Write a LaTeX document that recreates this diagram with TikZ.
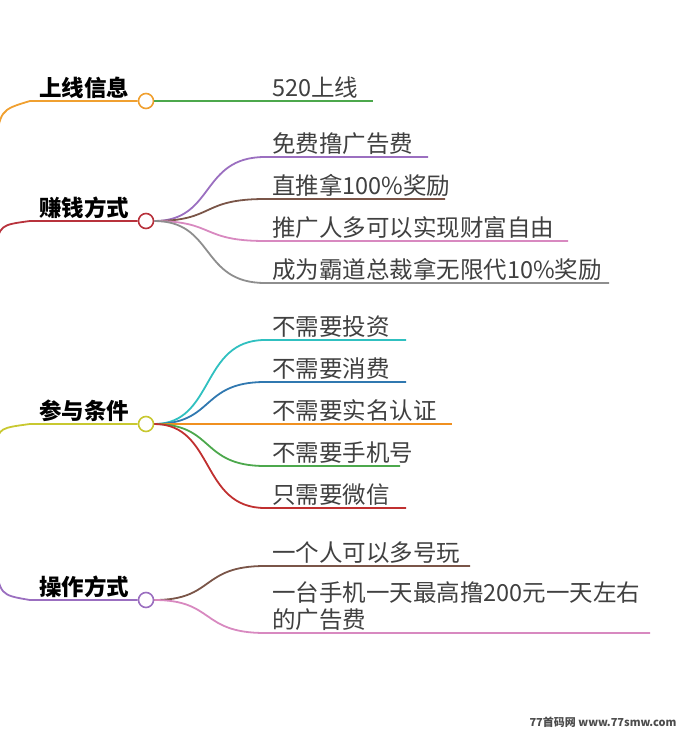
\documentclass[tikz,border=0pt]{standalone}
\usepackage{fontspec}
\setmainfont{Noto Sans CJK SC}
\begin{document}
\begin{tikzpicture}[x=1pt,y=-1pt,
 lbl/.style={anchor=south west,inner sep=1pt,font=\fontsize{23.5}{26}\selectfont,text=black!75},
 br/.style={anchor=south west,inner sep=1pt,font=\fontsize{22.5}{26}\selectfont\bfseries},
 dot/.style={circle,draw,line width=1.6pt,fill=white,minimum size=15pt,inner sep=0pt},
 ln/.style={line width=1.8pt}]
\useasboundingbox (0,0) rectangle (684,735);
\definecolor{cO}{HTML}{F0A030}\definecolor{cR}{HTML}{B8323C}\definecolor{cY}{HTML}{C8C830}\definecolor{cP}{HTML}{9B6FC0}
\definecolor{cG}{HTML}{4CA84C}\definecolor{cBr}{HTML}{7A5548}\definecolor{cPk}{HTML}{D889C0}\definecolor{cGr}{HTML}{8E8E8E}
\definecolor{cT}{HTML}{30C0C0}\definecolor{cB}{HTML}{3078B0}\definecolor{cOr}{HTML}{F09020}\definecolor{cRd}{HTML}{C03030}
% branch 1
\coordinate (s1) at (-5,150);
\node[br] (b1) at (38,100) {上线信息};
\node[dot,draw=cO] (d1) at (146,101) {};
\draw[ln,cO] (s1) .. controls (0,110) .. (30,101) -- (d1);
\coordinate (e11) at (373,101);
\draw[ln,cG] (d1) -- (e11);
\node[lbl] (t11) at (271,100) {520上线};
% branch 2
\coordinate (s2) at (-5,250);
\node[br] (b2) at (38,220) {赚钱方式};
\node[dot,draw=cR] (d2) at (146,221) {};
\draw[ln,cR] (s2) .. controls (0,225) .. (30,221) -- (d2);
\foreach \y/\e/\c/\t in {157/428/cP/免费撸广告费,199/445/cBr/直推拿100\%奖励,241/568/cPk/推广人多可以实现财富自由,283/609/cGr/成为霸道总裁拿无限代10\%奖励}{
 \coordinate (e) at (\e,\y);
 \draw[ln,\c] (d2) .. controls (215,221) and (200,\y) .. (265,\y) -- (e);
 \node[lbl] at (271,\y-1) {\t};}
% branch 3
\coordinate (s3) at (-5,445);
\node[br] (b3) at (38,423) {参与条件};
\node[dot,draw=cY] (d3) at (146,424) {};
\draw[ln,cY] (s3) .. controls (0,428) .. (30,424) -- (d3);
\foreach \y/\e/\c/\t in {340/406/cT/不需要投资,382/406/cB/不需要消费,424/452/cOr/不需要实名认证,466/400/cG/不需要手机号,508/406/cRd/只需要微信}{
 \coordinate (e) at (\e,\y);
 \draw[ln,\c] (d3) .. controls (215,424) and (200,\y) .. (265,\y) -- (e);
 \node[lbl] at (271,\y-1) {\t};}
% branch 4
\coordinate (s4) at (-5,560);
\node[br] (b4) at (38,599) {操作方式};
\node[dot,draw=cP] (d4) at (146,600) {};
\draw[ln,cP] (s4) .. controls (0,595) .. (30,600) -- (d4);
\coordinate (e41) at (470,566);
\draw[ln,cBr] (d4) .. controls (215,600) and (200,566) .. (265,566) -- (e41);
\node[lbl] at (271,565) {一个人可以多号玩};
\coordinate (e42) at (650,633);
\draw[ln,cPk] (d4) .. controls (215,600) and (200,633) .. (265,633) -- (e42);
\node[lbl,align=left,font=\fontsize{23.5}{27}\selectfont] at (271,632) {一台手机一天最高撸200元一天左右\\的广告费};
\node[anchor=east,font=\fontsize{11}{13}\selectfont\bfseries,text=black!70] (wm) at (680,722) {77首码网 www.77smw.com};
\end{tikzpicture}
\end{document}
